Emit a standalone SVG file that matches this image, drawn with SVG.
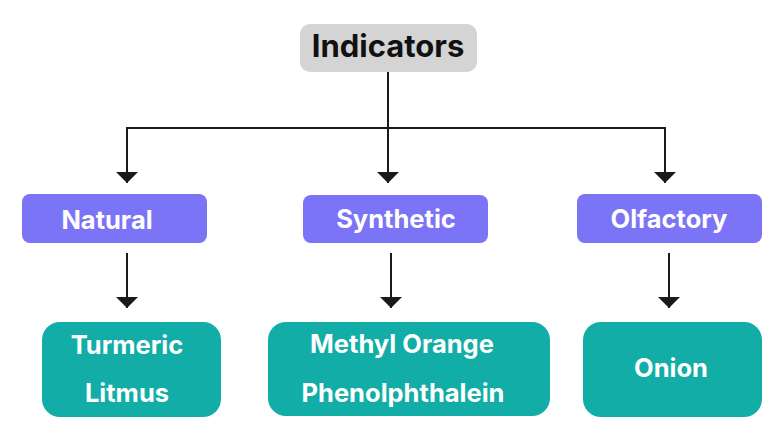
<svg xmlns="http://www.w3.org/2000/svg" width="780" height="434" viewBox="0 0 780 434">
<defs>
<marker id="ah" viewBox="0 0 11 22" refX="11" refY="11" markerWidth="11" markerHeight="22" markerUnits="userSpaceOnUse" orient="auto-start-reverse">
<path d="M0,0 L11,11 L0,22 Z" fill="#1a1a1a"/>
</marker>
<style>
.t{font-family:Inter,"Noto Sans",sans-serif;font-weight:700;text-anchor:middle}
.w{fill:#ffffff;font-size:25.5px}
.p{fill:#7b74f6}
.g{fill:#12ada6}
.c{fill:none;stroke:#1a1a1a;stroke-width:2}
</style>
</defs>
<rect width="780" height="434" fill="#ffffff"/>
<g id="connectors">
<line class="c" x1="388" y1="72" x2="388" y2="183" marker-end="url(#ah)"/>
<polyline class="c" points="127,183 127,128 665,128 665,183" marker-start="url(#ah)" marker-end="url(#ah)"/>
<line class="c" x1="127" y1="253" x2="127" y2="308" marker-end="url(#ah)"/>
<line class="c" x1="391" y1="253" x2="391" y2="308" marker-end="url(#ah)"/>
<line class="c" x1="669" y1="253" x2="669" y2="308" marker-end="url(#ah)"/>
</g>
<g id="indicators">
<rect x="300" y="24" width="177" height="48" rx="10" fill="#d4d4d4"/>
<text class="t" x="388" y="57" font-size="31" fill="#111111">Indicators</text>
</g>
<g id="natural">
<rect class="p" x="22" y="194" width="185" height="49" rx="8"/>
<text class="t w" x="107" y="229">Natural</text>
</g>
<g id="synthetic">
<rect class="p" x="303" y="195" width="185" height="48" rx="8"/>
<text class="t w" x="396" y="228">Synthetic</text>
</g>
<g id="olfactory">
<rect class="p" x="577" y="194" width="185" height="49" rx="8"/>
<text class="t w" x="669" y="228">Olfactory</text>
</g>
<g id="natural-examples">
<rect class="g" x="42" y="322" width="179" height="95" rx="18"/>
<text class="t w" x="127" y="354">Turmeric</text>
<text class="t w" x="127" y="402">Litmus</text>
</g>
<g id="synthetic-examples">
<rect class="g" x="268" y="322" width="282" height="94" rx="18"/>
<text class="t w" x="402" y="353">Methyl Orange</text>
<text class="t w" x="403" y="402">Phenolphthalein</text>
</g>
<g id="olfactory-examples">
<rect class="g" x="583" y="322" width="179" height="95" rx="18"/>
<text class="t w" x="671" y="377">Onion</text>
</g>
</svg>
